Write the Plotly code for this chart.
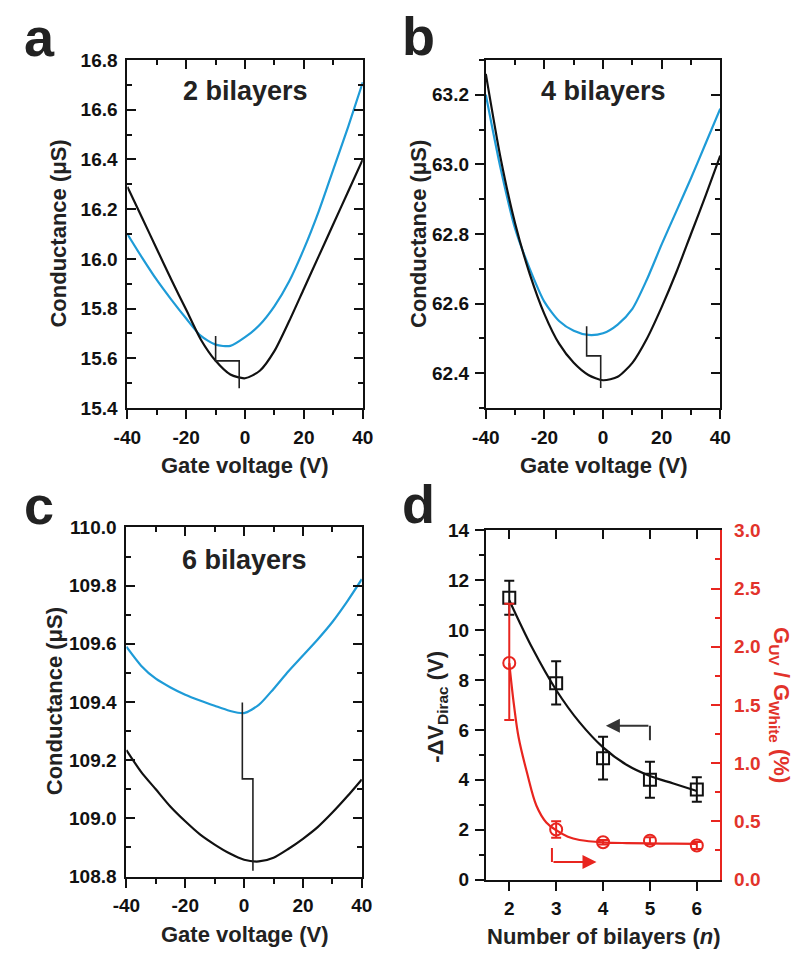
import plotly.graph_objects as go

# ---------------- data ----------------
V = [-40, -35, -30, -25, -20, -15, -10, -5, 0, 5, 10, 15, 20, 25, 30, 35, 40]
gate_ticks = [-40, -20, 0, 20, 40]
gate_tick_text = ["-40", "-20", "0", "20", "40"]

a_white = [16.29, 16.165, 16.04, 15.915, 15.795, 15.675, 15.59, 15.535, 15.52, 15.55, 15.63, 15.75, 15.88, 16.01, 16.14, 16.27, 16.40]
a_uv = [16.10, 16.005, 15.915, 15.835, 15.76, 15.69, 15.655, 15.65, 15.685, 15.735, 15.81, 15.91, 16.04, 16.19, 16.36, 16.53, 16.71]
a_step_x = [-10, -10, -2, -2]
a_step_y = [15.69, 15.59, 15.59, 15.48]

b_white = [63.26, 63.02, 62.83, 62.685, 62.57, 62.485, 62.43, 62.395, 62.38, 62.39, 62.43, 62.50, 62.59, 62.69, 62.80, 62.91, 63.025]
b_uv = [63.2, 62.99, 62.815, 62.70, 62.605, 62.55, 62.522, 62.51, 62.515, 62.54, 62.585, 62.67, 62.77, 62.865, 62.96, 63.06, 63.16]
b_step_x = [-5.6, -5.6, -0.8, -0.8]
b_step_y = [62.535, 62.45, 62.45, 62.358]

c_white = [109.235, 109.16, 109.10, 109.04, 108.99, 108.945, 108.91, 108.88, 108.858, 108.852, 108.865, 108.895, 108.93, 108.97, 109.02, 109.075, 109.134]
c_uv = [109.59, 109.525, 109.48, 109.45, 109.425, 109.405, 109.387, 109.37, 109.362, 109.39, 109.445, 109.505, 109.56, 109.615, 109.675, 109.745, 109.822]
c_step_x = [-0.6, -0.6, 3.0, 3.0]
c_step_y = [109.398, 109.136, 109.136, 108.82]

n_layers = [2, 3, 4, 5, 6]
dv_dirac = [11.3, 7.87, 4.86, 4.0, 3.61]
dv_err_plus = [0.68, 0.88, 0.86, 0.72, 0.49]
dv_err_minus = [0.68, 0.85, 0.85, 0.72, 0.49]
ratio = [1.86, 0.43, 0.32, 0.334, 0.292]
ratio_err_plus = [0.51, 0.07, 0.02, 0.03, 0.03]
ratio_err_minus = [0.49, 0.07, 0.02, 0.03, 0.03]

fit_dv_n = [2, 2.5, 3, 3.5, 4, 4.5, 5, 5.5, 6]
fit_dv = [11.2, 9.25, 7.6, 6.3, 5.3, 4.6, 4.15, 3.85, 3.55]
fit_ratio_n = [2, 2.1, 2.2, 2.38, 2.58, 2.79, 3, 3.25, 3.5, 4, 4.5, 5, 5.5, 6]
fit_ratio = [1.86, 1.50, 1.22, 0.915, 0.634, 0.49, 0.424, 0.368, 0.34, 0.32, 0.313, 0.31, 0.308, 0.306]

arrow_black_x = [5, 5]
arrow_black_y = [5.58, 6.17]
arrow_black_tip = (4.06, 6.17)
arrow_red_x = [2.91, 2.91]
arrow_red_y = [0.27, 0.15]
arrow_red_tip = (3.86, 0.15)

# ---------------- style ----------------
BLACK = "#111111"
BLUE = "#1E9BD7"
RED = "#E8251F"
RED_TXT = "#E2332B"
FONT = "Liberation Sans"
W, H = 802, 959


def px_x(p):
    return p / W


def px_y(p):
    return 1 - p / H


panels = [
    dict(x=(117, 360), y=(51, 407)),
    dict(x=(487, 729), y=(51, 407)),
    dict(x=(116, 359), y=(529, 886)),
    dict(x=(487, 729), y=(532, 889)),
]

fig = go.Figure()


def nm(prefix, k):
    return prefix if k == 1 else f"{prefix}{k}"


def key(prefix, k):
    return f"{prefix}axis" if k == 1 else f"{prefix}axis{k}"


tickfont = dict(family=FONT, size=19, color=BLACK, weight="bold")


def make_axes(i, xr, xtv, xtt, xmd, yr, yd, yt0, ymd, ymt0, left_ticks, right_red=False,
              rr=None, rd=None, rmd=None):
    p = panels[i]
    kb, kt, kl, kr = 2 * i + 1, 2 * i + 2, 2 * i + 1, 2 * i + 2
    dom_x = [px_x(p["x"][0]), px_x(p["x"][1])]
    dom_y = [px_y(p["y"][1]), px_y(p["y"][0])]
    common = dict(showgrid=False, zeroline=False, linecolor=BLACK, linewidth=2,
                  tickcolor=BLACK, tickwidth=2, ticklen=9)
    minor_x = dict(tickmode="linear", dtick=xmd, tick0=xtv[0], ticklen=5, tickwidth=2,
                   tickcolor=BLACK) if xmd else None
    lay = {}
    lay[key("x", kb)] = dict(common, domain=dom_x, range=xr, anchor=nm("y", kl), side="bottom",
                             ticks="outside", tickmode="array", tickvals=xtv, ticktext=xtt,
                             showline=True, tickfont=tickfont, ticklabelstandoff=2,
                             minor=dict(minor_x, ticks="outside") if minor_x else dict(ticks=""))
    lay[key("x", kt)] = dict(common, range=xr, anchor=nm("y", kl), overlaying=nm("x", kb), side="top",
                             ticks="inside", tickmode="array", tickvals=xtv, showline=True,
                             showticklabels=False,
                             minor=dict(minor_x, ticks="inside") if minor_x else dict(ticks=""))
    minor_y = dict(dtick=ymd, tick0=ymt0, ticklen=5, tickwidth=2, tickcolor=BLACK)
    lay[key("y", kl)] = dict(common, domain=dom_y, range=yr, anchor=nm("x", kb), side="left",
                             ticks=left_ticks, dtick=yd, tick0=yt0, showline=True,
                             tickformat=".1f" if yd < 1 else "d",
                             tickfont=tickfont, ticklabelstandoff=4 if left_ticks == "inside" else 2,
                             minor=dict(minor_y, ticks=left_ticks))
    if right_red:
        lay[key("y", kr)] = dict(showgrid=False, zeroline=False, linecolor=RED, linewidth=2,
                                 tickcolor=RED, tickwidth=2, ticklen=9,
                                 range=rr, anchor=nm("x", kb), overlaying=nm("y", kl), side="right",
                                 ticks="inside", dtick=rd, tick0=0, showline=True,
                                 tickformat=".1f",
                                 tickfont=dict(family=FONT, size=19, color=RED_TXT, weight="bold"),
                                 ticklabelstandoff=8,
                                 minor=dict(dtick=rmd, tick0=0, ticklen=5, tickwidth=2,
                                            tickcolor=RED, ticks="inside"))
    else:
        lay[key("y", kr)] = dict(common, range=yr, anchor=nm("x", kb), overlaying=nm("y", kl), side="right",
                                 ticks="inside", dtick=yd, tick0=yt0, showline=True, showticklabels=False,
                                 minor=dict(minor_y, ticks="inside"))
    fig.update_layout(**lay)
    fig.add_trace(go.Scatter(x=[None], y=[None], xaxis=nm("x", kt), yaxis=nm("y", kl),
                             showlegend=False, hoverinfo="skip"))
    fig.add_trace(go.Scatter(x=[None], y=[None], xaxis=nm("x", kb), yaxis=nm("y", kr),
                             showlegend=False, hoverinfo="skip"))
    return nm("x", kb), nm("y", kl), nm("y", kr)


xa, ya, _ = make_axes(0, [-40, 40], gate_ticks, gate_tick_text, 10, [15.4, 16.8], 0.2, 15.4, 0.1, 15.4, "inside")
xb, yb, _ = make_axes(1, [-40, 40], gate_ticks, gate_tick_text, 10, [62.3, 63.3], 0.2, 62.4, 0.1, 62.3, "outside")
xc, yc, _ = make_axes(2, [-40, 40], gate_ticks, gate_tick_text, 10, [108.8, 110.0], 0.2, 108.8, 0.1, 108.8, "inside")
xd_, yd_, yr_ = make_axes(3, [1.5, 6.5], n_layers, [str(n) for n in n_layers], None, [0, 14], 2, 0, 1, 0,
                          "outside", right_red=True, rr=[0, 3], rd=0.5, rmd=0.25)

for xs, ys, white, uv, sx, sy in [
    (xa, ya, a_white, a_uv, a_step_x, a_step_y),
    (xb, yb, b_white, b_uv, b_step_x, b_step_y),
    (xc, yc, c_white, c_uv, c_step_x, c_step_y),
]:
    fig.add_trace(go.Scatter(x=V, y=uv, xaxis=xs, yaxis=ys, mode="lines",
                             line=dict(color=BLUE, width=2.2, shape="spline", smoothing=0.7),
                             showlegend=False, cliponaxis=False))
    fig.add_trace(go.Scatter(x=V, y=white, xaxis=xs, yaxis=ys, mode="lines",
                             line=dict(color=BLACK, width=2.2, shape="spline", smoothing=0.7),
                             showlegend=False, cliponaxis=False))
    fig.add_trace(go.Scatter(x=sx, y=sy, xaxis=xs, yaxis=ys, mode="lines",
                             line=dict(color="#222222", width=1.6),
                             showlegend=False))

fig.add_trace(go.Scatter(x=fit_dv_n, y=fit_dv, xaxis=xd_, yaxis=yd_, mode="lines",
                         line=dict(color=BLACK, width=2.2, shape="spline"), showlegend=False))
fig.add_trace(go.Scatter(x=n_layers, y=dv_dirac, xaxis=xd_, yaxis=yd_, mode="markers",
                         marker=dict(symbol="square-open", size=12, color=BLACK, line=dict(width=2)),
                         error_y=dict(type="data", array=dv_err_plus, arrayminus=dv_err_minus,
                                      color=BLACK, thickness=2, width=5),
                         showlegend=False))
fig.add_trace(go.Scatter(x=fit_ratio_n, y=fit_ratio, xaxis=xd_, yaxis=yr_, mode="lines",
                         line=dict(color=RED, width=2.2, shape="spline"), showlegend=False))
fig.add_trace(go.Scatter(x=n_layers, y=ratio, xaxis=xd_, yaxis=yr_, mode="markers",
                         marker=dict(symbol="circle-open", size=12, color=RED, line=dict(width=2)),
                         error_y=dict(type="data", array=ratio_err_plus, arrayminus=ratio_err_minus,
                                      color=RED, thickness=2, width=5),
                         showlegend=False))
fig.add_trace(go.Scatter(x=arrow_black_x, y=arrow_black_y, xaxis=xd_, yaxis=yd_, mode="lines",
                         line=dict(color="#333333", width=2), showlegend=False))
fig.add_trace(go.Scatter(x=arrow_red_x, y=arrow_red_y, xaxis=xd_, yaxis=yr_, mode="lines",
                         line=dict(color=RED, width=2), showlegend=False))

ann = []
ann.append(dict(x=arrow_black_tip[0], y=arrow_black_tip[1], xref=xd_, yref=yd_,
                ax=arrow_black_x[0], ay=arrow_black_y[1], axref=xd_, ayref=yd_,
                showarrow=True, arrowhead=2, arrowsize=1.4, arrowwidth=2, arrowcolor="#333333", text=""))
ann.append(dict(x=arrow_red_tip[0], y=arrow_red_tip[1], xref=xd_, yref=yr_,
                ax=arrow_red_x[0], ay=arrow_red_y[1], axref=xd_, ayref=yr_,
                showarrow=True, arrowhead=2, arrowsize=1.4, arrowwidth=2, arrowcolor=RED, text=""))


def txt(text, x, y, size, angle=0, color="#222222", xanchor="center", yanchor="middle"):
    ann.append(dict(text=text, x=px_x(x), y=px_y(y), xref="paper", yref="paper",
                    showarrow=False, textangle=angle, xanchor=xanchor, yanchor=yanchor,
                    font=dict(family=FONT, size=size, color=color, weight="bold")))


txt("a", 8, 28, 54, xanchor="left")
txt("b", 398, 27, 54, xanchor="left")
txt("c", 8, 506, 54, xanchor="left")
txt("d", 398, 505, 54, xanchor="left")

txt("2 bilayers", 239, 83, 27)
txt("4 bilayers", 608, 83, 27)
txt("6 bilayers", 238, 562, 27)

txt("Gate voltage (V)", 238, 466, 22)
txt("Gate voltage (V)", 608, 466, 22)
txt("Gate voltage (V)", 238, 945, 22)
txt("Number of bilayers (<i>n</i>)", 609, 947, 22)
txt("Conductance (μS)", 46, 229, 22, angle=-90)
txt("Conductance (μS)", 418, 229, 22, angle=-90)
txt("Conductance (μS)", 42, 707, 22, angle=-90)
txt("-ΔV<sub>Dirac</sub> (V)", 437, 712, 22, angle=-90)
txt("G<sub>UV</sub> / G<sub>White</sub> (%)", 790, 711, 22, angle=90, color=RED_TXT)

fig.update_layout(
    width=W, height=H, autosize=False,
    margin=dict(l=0, r=0, t=0, b=0),
    paper_bgcolor="white", plot_bgcolor="white",
    font=dict(family=FONT, color=BLACK),
    annotations=ann,
    showlegend=False,
)

fig.write_html("out.html")
